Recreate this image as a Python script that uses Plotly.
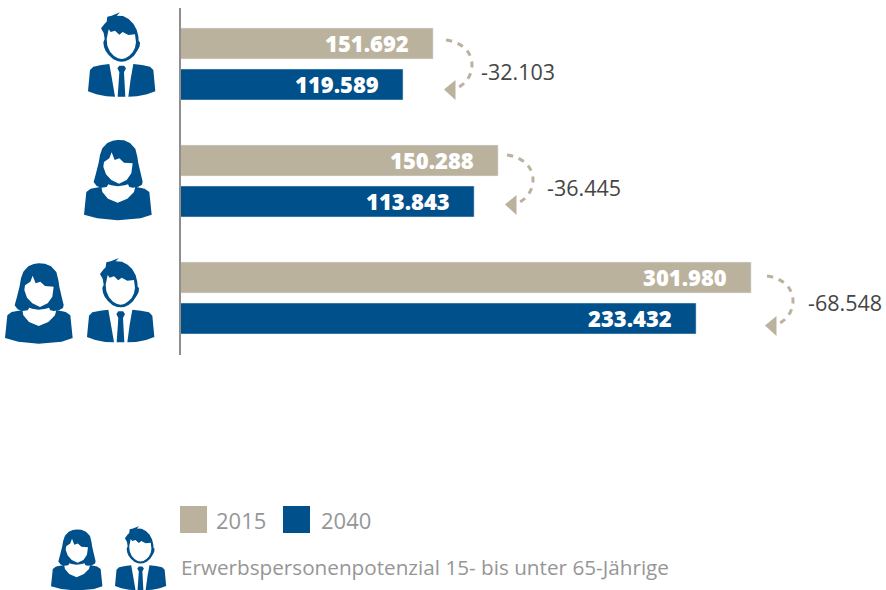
import plotly.graph_objects as go

W, H = 886, 590

groups = ["Männer", "Frauen", "Gesamt"]
labels_2015 = ["151.692", "150.288", "301.980"]
labels_2040 = ["119.589", "113.843", "233.432"]
labels_delta = ["-32.103", "-36.445", "-68.548"]
# drawn bar lengths (the original bars are not proportional to their labels)
lengths_2015 = [133.6, 168.0, 301.8]
lengths_2040 = [117.7, 155.3, 272.7]
legend_names = ["2015", "2040"]
caption = "Erwerbspersonenpotenzial 15- bis unter 65-Jährige"

TAN = "#bbb29e"
BLUE = "#00508c"
GREY = "#8f8f8f"
DARK = "#454545"
FONT = "Open Sans"
PX_PER_UNIT = 571 / 302.0
X0 = 180.5

shapes = []
annotations = []


def fx(x):
    return x / W


def fy(y):
    return 1 - y / H


def poly(points, color, ox, oy, scale):
    """Closed polygon from icon-local points, positioned in page pixels."""
    p = [(ox + a * scale, oy + b * scale) for a, b in points]
    d = "M " + " L ".join(f"{fx(a):.5f} {fy(b):.5f}" for a, b in p) + " Z"
    shapes.append(dict(type="path", path=d, xref="paper", yref="paper",
                       fillcolor=color, line=dict(width=0), layer="above"))


# icon outlines, local units = 1/3 px at scale 1, origin at icon's top-left
MAN_HEAD = [(39, 48), (50, 34), (56, 28), (58, 13), (71, 10), (96, 0), (86, 10), (105, 11), (122, 20), (136, 34),
            (146, 52), (151, 72), (152, 86), (156, 90), (155, 102), (151, 110), (146, 118), (138, 130), (125, 141),
            (112, 147), (101, 148), (90, 147), (76, 141), (62, 128), (53, 116), (48, 104), (46, 90), (50, 80),
            (47, 62)]
MAN_FACE = [(56, 80), (62, 51), (68, 59), (81, 55), (94, 67), (104, 59), (121, 68), (141, 66), (144, 90), (141, 106),
            (134, 120), (124, 130), (112, 138), (101, 140), (90, 138), (78, 131), (66, 118), (58, 100)]
MAN_L = [(0, 237), (6, 173), (16, 163), (40, 158), (64, 155), (72, 200), (81, 253), (55, 252), (25, 246)]
MAN_R = [(202, 237), (196, 173), (186, 163), (162, 158), (136, 155), (128, 200), (121, 253), (147, 252), (177, 246)]
MAN_TIE = [(88, 168), (94, 160), (108, 160), (114, 168), (108, 180), (112, 253), (89, 253), (94, 180)]

WOMAN_HAIR = [(101, 0), (120, 1), (138, 9), (154, 26), (160, 50), (163, 70), (170, 100), (176, 125), (174, 134),
              (163, 140), (147, 143), (136, 141), (132, 133), (122, 136), (101, 139), (82, 136), (73, 133), (68, 141),
              (52, 143), (38, 138), (29, 126), (36, 100), (44, 68), (48, 45), (55, 25), (70, 9), (86, 2)]
WOMAN_FACE = [(58, 80), (60, 66), (76, 55), (83, 37), (92, 60), (106, 55), (120, 68), (146, 70), (142, 100),
              (128, 120), (105, 131), (82, 120), (66, 103)]
WOMAN_BODY = [(0, 224), (7, 156), (20, 146), (52, 140), (55, 156), (72, 176), (101, 188), (130, 176), (150, 156),
              (154, 140), (182, 146), (196, 156), (203, 224), (170, 235), (101, 241), (40, 235)]


def man(ox, oy, s):
    scale = s / 3
    for part, col in [(MAN_HEAD, BLUE), (MAN_FACE, "#ffffff"), (MAN_L, BLUE), (MAN_R, BLUE), (MAN_TIE, BLUE)]:
        poly(part, col, ox, oy, scale)


def woman(ox, oy, s):
    scale = s / 3
    for part, col in [(WOMAN_BODY, BLUE), (WOMAN_HAIR, BLUE), (WOMAN_FACE, "#ffffff")]:
        poly(part, col, ox, oy, scale)


man(88, 12.3, 1)
woman(84, 140, 1)
woman(5, 263.3, 1)
man(87, 258, 1)
woman(51, 529.5, 0.76)
man(115, 526, 0.76)


def arrow(dx, dy):
    P = lambda a, b: f"{fx(a + dx):.5f} {fy(b + dy):.5f}"
    d = (f"M {P(446, 40)} C {P(462, 42)} {P(472, 52)} {P(472, 65)} "
         f"C {P(472, 76)} {P(465, 85)} {P(455, 89)}")
    shapes.append(dict(type="path", path=d, xref="paper", yref="paper",
                       line=dict(color=TAN, width=3, dash="6px,6px")))
    t = f"M {P(444, 89.5)} L {P(455.5, 80)} L {P(455.5, 100)} Z"
    shapes.append(dict(type="path", path=t, xref="paper", yref="paper",
                       fillcolor=TAN, line=dict(width=0)))


arrow_offsets = [(0, 0), (61, 115), (321, 236)]
delta_pos = [(479, 71), (545, 187), (806, 302)]
for off in arrow_offsets:
    arrow(*off)
for txt, (x, y) in zip(labels_delta, delta_pos):
    annotations.append(dict(text=txt, x=fx(x), y=fy(y), xref="paper", yref="paper", showarrow=False,
                            xanchor="left", yanchor="middle",
                            font=dict(family=FONT, size=21.5, color=DARK)))

# value labels inside bars
for i, g in enumerate(groups):
    for val, lab, shift in [(lengths_2015[i], labels_2015[i], 21.5), (lengths_2040[i], labels_2040[i], -19.5)]:
        annotations.append(dict(text=lab, x=val, y=g, xref="x", yref="y", showarrow=False,
                                xanchor="right", yanchor="middle", xshift=-22, yshift=shift,
                                font=dict(family=FONT, size=22, weight=800, color="#ffffff")))

# legend
for name, col, x0, tx in [(legend_names[0], TAN, 180, 214), (legend_names[1], BLUE, 283, 319)]:
    shapes.append(dict(type="rect", xref="paper", yref="paper", x0=fx(x0), x1=fx(x0 + 27), y0=fy(533), y1=fy(506),
                       fillcolor=col, line=dict(width=0)))
    annotations.append(dict(text=name, x=fx(tx), y=fy(520), xref="paper", yref="paper", showarrow=False,
                            xanchor="left", yanchor="middle", font=dict(family=FONT, size=22, color="#969696")))
annotations.append(dict(text=caption, x=fx(179), y=fy(567), xref="paper", yref="paper", showarrow=False,
                        xanchor="left", yanchor="middle", font=dict(family=FONT, size=20.7, color="#969696")))

fig = go.Figure()
fig.add_bar(name=legend_names[0], y=groups, x=lengths_2015, orientation="h", marker_color=TAN, hoverinfo="skip")
fig.add_bar(name=legend_names[1], y=groups, x=lengths_2040, orientation="h", marker_color=BLUE, hoverinfo="skip")
fig.update_layout(
    width=W, height=H, margin=dict(l=0, r=0, t=0, b=0, pad=0), paper_bgcolor="#ffffff", plot_bgcolor="#ffffff",
    barmode="group", bargap=1 - 82 / 117, bargroupgap=10 / 41, showlegend=False,
    xaxis=dict(domain=[X0 / W, 1], range=[0, (W - X0) / PX_PER_UNIT], visible=False),
    yaxis=dict(domain=[fy(355), fy(8)], range=[2 + 57 / 117, -56 / 117], type="category", showline=True,
               linecolor=GREY, linewidth=2, showticklabels=False, ticks="", showgrid=False, zeroline=False),
    shapes=shapes, annotations=annotations,
)
fig.write_html("out.html", config=dict(displayModeBar=False), post_script="document.body.style.margin='0';")
